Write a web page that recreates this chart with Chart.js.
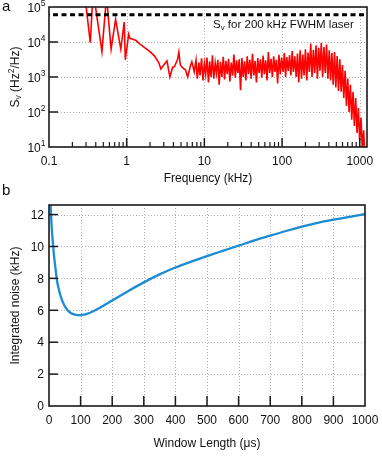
<!DOCTYPE html>
<html><head><meta charset="utf-8">
<script src="https://cdn.jsdelivr.net/npm/chart.js@4.4.1/dist/chart.umd.min.js"></script>
<style>
html,body{margin:0;padding:0;background:#fff;}
#wrap{position:relative;width:382px;height:456px;overflow:hidden;background:#fff;}
canvas{position:absolute;left:0;}
#ca{top:0;} #cb{top:180px;}
</style></head><body>
<div id="wrap"><canvas id="ca" width="382" height="188"></canvas><canvas id="cb" width="382" height="276"></canvas></div>
<script>
// ---------- Panel a: frequency-noise spectrum ----------
const freqKHz = [0.28,0.34,0.37,0.48,0.55,0.63,0.72,0.84,0.93,0.96,1.06,1.1,1.2,1.32,1.5,1.7,2.0,2.3,2.6,2.75,3.0,3.3,3.6,3.9,4.1,4.5,4.7,4.9,5.3,5.7,6.1,6.6,6.9,7.4,
 7.8,8.1,8.5,8.8,9.2,9.6,10.0,10.4,10.8,11.3,11.7,12.2,12.7,13.2,13.8,14.3,14.9,15.5,16.1,16.8,17.5,18.2,18.9,19.7,20.5,21.3,22.2,23.1,24.0,25.0,26.0,27.0,28.1,29.2,30.4,31.6,32.9,34.2,35.6,37.0,38.5,40.0,41.6,43.3,45.0,46.8,48.7,50.6,52.7,54.8,57.0,59.2,61.6,64.1,66.6,69.3,72.1,75.0,78.0,81.1,84.3,87.7,91.2,94.9,98.7,
 103,107,111,115,120,125,130,135,140,146,152,158,164,171,178,185,192,200,208,216,225,234,243,253,263,274,285,296,308,320,333,346,360,374,389,405,421,438,455,474,492,512,533,554,576,599,623,648,674,701,729,758,789,820,853,887,923,960,998,1038,1080,1123,1168,1215];
const svHz2PerHz = [400000,9500,300000,5300,200000,6300,44000,6300,37000,3100,16600,12700,12000,11000,8500,6900,5300,3900,2500,1700,2200,2900,1000,1900,1950,3100,5200,2200,1800,1600,1000,2050,2700,1400,
 3000,900,2600,1100,3400,800,2400,1200,3600,700,2800,1000,4200,900,2500,1300,3100,600,2700,1000,3800,850,2900,1200,3300,750,2600,1100,4400,950,3000,1300,3200,420,3500,1000,2800,800,3900,1200,3100,900,4600,1100,2900,700,3500,1300,3200,950,4100,1200,3000,800,5200,1300,3300,1000,3900,1400,3100,650,4300,1200,3600,
 1400,4800,1000,3700,1500,4200,1100,5500,1400,3900,1000,4700,700,5800,900,4400,1100,6200,800,5000,1400,9000,1000,6000,1300,8000,900,6800,1500,9500,1000,7200,1300,8500,900,5800,800,4800,600,5200,500,4000,400,3200,380,2200,250,1500,150,900,100,600,60,380,40,250,25,130,15,70,8,30,5,8];
const laserFwhmSv = 60000;
const freqMajorTicks = [0.1, 1, 10, 100, 1000];
const freqTickLabels = ['0.1', '1', '10', '100', '1000'];
const freqMinorTicks = [0.2,0.3,0.4,0.5,0.6,0.7,0.8,0.9,2,3,4,5,6,7,8,9,20,30,40,50,60,70,80,90,200,300,400,500,600,700,800,900];
const svTicks = [10, 100, 1000, 10000, 100000];
const svTickExponents = ['1', '2', '3', '4', '5'];

// ---------- Panel b: integrated noise ----------
const windowUs = [4,6,8,10,12,15,20,25,30,40,50,60,70,80,90,100,110,120,140,160,180,200,250,300,350,400,450,500,550,600,650,700,750,800,850,900,950,1000];
const noiseKHz = [13.2,12.2,11.4,10.8,10.3,9.6,8.7,7.9,7.4,6.7,6.25,5.98,5.82,5.74,5.7,5.7,5.73,5.78,5.94,6.15,6.38,6.62,7.2,7.75,8.25,8.68,9.05,9.4,9.73,10.05,10.38,10.68,10.97,11.24,11.48,11.68,11.86,12.02];
const windowTicks = [0,100,200,300,400,500,600,700,800,900,1000];
const noiseTicks = [0,2,4,6,8,10,12];

const FONT = '"Liberation Sans", Arial, Helvetica, sans-serif';
const TXT = '#111';
const AX = '#1a1a1a';
const GRID = '#b0b0b0';
function font(sz){ return sz + 'px ' + FONT; }
function richWidth(ctx, runs){ let w=0; for(const r of runs){ ctx.font=font(r.size); w+=ctx.measureText(r.text).width; } return w; }
function drawRich(ctx, runs, x, y, align){
  const w = richWidth(ctx, runs);
  let cx = align==='right' ? x-w : (align==='center' ? x-w/2 : x);
  ctx.textAlign='left'; ctx.textBaseline='alphabetic'; ctx.fillStyle=TXT;
  for(const r of runs){ ctx.font=font(r.size); ctx.fillText(r.text, cx, y+(r.dy||0)); cx += ctx.measureText(r.text).width; }
}
function seg(ctx,x1,y1,x2,y2){ ctx.beginPath(); ctx.moveTo(x1,y1); ctx.lineTo(x2,y2); ctx.stroke(); }
function snap(v){ return Math.round(v)+0.5; }

const gridA = {
  id:'gridA',
  beforeDatasetsDraw(chart){
    const {ctx, chartArea:a, scales:{x,y}} = chart;
    ctx.save(); ctx.strokeStyle=GRID; ctx.lineWidth=1; ctx.setLineDash([1,2]);
    for(const v of freqMajorTicks.slice(1)){ const px=snap(x.getPixelForValue(v)); seg(ctx,px,a.top,px,a.bottom); }
    for(const v of svTicks.slice(1,-1)){ const py=snap(y.getPixelForValue(v)); seg(ctx,a.left,py,a.right,py); }
    ctx.restore();
  },
  afterDatasetsDraw(chart){
    const {ctx, chartArea:a, scales:{x,y}} = chart;
    ctx.save(); ctx.strokeStyle=AX; ctx.setLineDash([]);
    ctx.lineWidth=1.5;
    for(const v of freqMajorTicks.slice(1)){ const px=x.getPixelForValue(v); seg(ctx,px,a.bottom,px,a.bottom-9); }
    for(const v of svTicks.slice(1,-1)){ const py=y.getPixelForValue(v); seg(ctx,a.left,py,a.left+9,py); }
    ctx.lineWidth=1.2;
    for(const v of freqMinorTicks){ const px=x.getPixelForValue(v); seg(ctx,px,a.bottom,px,a.bottom-5); }
    ctx.lineWidth=1.6; ctx.strokeRect(a.left,a.top,a.right-a.left,a.bottom-a.top);
    // tick labels
    ctx.fillStyle=TXT; ctx.font=font(12); ctx.textAlign='center'; ctx.textBaseline='alphabetic';
    freqMajorTicks.forEach((v,i)=>{ ctx.fillText(freqTickLabels[i], x.getPixelForValue(v), 164.5); });
    svTicks.forEach((v,i)=>{ const py=y.getPixelForValue(v); drawRich(ctx,[{text:'10',size:12},{text:svTickExponents[i],size:8.5,dy:-6}],45.5,py+5,'right'); });
    // axis titles
    ctx.font=font(12); ctx.textAlign='center'; ctx.fillText('Frequency (kHz)', (a.left+a.right)/2, 182);
    ctx.save(); ctx.translate(18.5,(a.top+a.bottom)/2); ctx.rotate(-Math.PI/2);
    drawRich(ctx,[{text:'S',size:12},{text:'v',size:8.5,dy:2.5},{text:' (Hz',size:12},{text:'2',size:8.5,dy:-5},{text:'/Hz)',size:12}],0,0,'center');
    ctx.restore();
    // legend text and panel letter
    drawRich(ctx,[{text:'S',size:11.5},{text:'v',size:8,dy:2},{text:' for 200 kHz FWHM laser',size:11.5}],213,28,'left');
    ctx.font=font(15); ctx.textAlign='left'; ctx.fillStyle=TXT; ctx.fillText('a',2,10.5);
    ctx.restore();
  }
};

const gridB = {
  id:'gridB',
  beforeDatasetsDraw(chart){
    const {ctx, chartArea:a, scales:{x,y}} = chart;
    ctx.save(); ctx.strokeStyle=GRID; ctx.lineWidth=1; ctx.setLineDash([1,2]);
    for(const v of windowTicks.slice(1,-1)){ const px=snap(x.getPixelForValue(v)); seg(ctx,px,a.top,px,a.bottom); }
    for(const v of noiseTicks.slice(1)){ const py=snap(y.getPixelForValue(v)); seg(ctx,a.left,py,a.right,py); }
    ctx.restore();
  },
  afterDatasetsDraw(chart){
    const {ctx, chartArea:a, scales:{x,y}} = chart;
    ctx.save(); ctx.strokeStyle=AX; ctx.setLineDash([]); ctx.lineWidth=1.5;
    for(const v of windowTicks.slice(1,-1)){ const px=x.getPixelForValue(v); seg(ctx,px,a.bottom,px,a.bottom-10); }
    for(const v of noiseTicks.slice(1)){ const py=y.getPixelForValue(v); seg(ctx,a.left,py,a.left+9,py); }
    ctx.lineWidth=1.6; ctx.strokeRect(a.left,a.top,a.right-a.left,a.bottom-a.top);
    ctx.fillStyle=TXT; ctx.font=font(12); ctx.textBaseline='alphabetic';
    ctx.textAlign='center';
    windowTicks.forEach(v=>{ ctx.fillText(String(v), x.getPixelForValue(v), 243.5); });
    ctx.textAlign='right';
    noiseTicks.forEach(v=>{ ctx.fillText(String(v), 44, y.getPixelForValue(v)+4.3); });
    ctx.textAlign='center';
    ctx.fillText('Window Length (\u03bcs)', (a.left+a.right)/2, 266.5);
    ctx.save(); ctx.translate(18.5,(a.top+a.bottom)/2); ctx.rotate(-Math.PI/2);
    ctx.textAlign='center'; ctx.fillText('Integrated noise (kHz)',0,0); ctx.restore();
    ctx.font=font(15); ctx.textAlign='left'; ctx.fillText('b',2,15);
    ctx.restore();
  }
};

const hidden = { ticks:{display:false}, grid:{display:false}, border:{display:false}, title:{display:false} };

new Chart(document.getElementById('ca'), {
  type:'line',
  data:{ datasets:[
    { label:'Sv for 200 kHz FWHM laser', data:[{x:0.1,y:laserFwhmSv},{x:1240,y:laserFwhmSv}], borderColor:'#000', borderWidth:3, borderDash:[5,3.5], borderDashOffset:-4, pointRadius:0 },
    { label:'Sv', data:freqKHz.map((f,i)=>({x:f,y:svHz2PerHz[i]})), borderColor:'#ff0000', borderWidth:1.6, pointRadius:0, tension:0 }
  ]},
  options:{
    responsive:false, devicePixelRatio:1, animation:false, events:[],
    layout:{ padding:{left:49,right:15,top:7,bottom:41} },
    plugins:{ legend:{display:false}, tooltip:{enabled:false} },
    scales:{
      x:Object.assign({ type:'logarithmic', min:0.1, max:1240, afterFit(s){ s.height=0; } }, hidden),
      y:Object.assign({ type:'logarithmic', min:10, max:100000, afterFit(s){ s.width=0; } }, hidden)
    }
  },
  plugins:[gridA]
});

new Chart(document.getElementById('cb'), {
  type:'line',
  data:{ datasets:[
    { label:'Integrated noise', data:windowUs.map((w,i)=>({x:w,y:noiseKHz[i]})), borderColor:'#1b8bd4', borderWidth:2.3, pointRadius:0, cubicInterpolationMode:'monotone' }
  ]},
  options:{
    responsive:false, devicePixelRatio:1, animation:false, events:[],
    layout:{ padding:{left:49,right:17,top:25,bottom:50} },
    plugins:{ legend:{display:false}, tooltip:{enabled:false} },
    scales:{
      x:Object.assign({ type:'linear', min:0, max:1000, afterFit(s){ s.height=0; } }, hidden),
      y:Object.assign({ type:'linear', min:0, max:12.6, afterFit(s){ s.width=0; } }, hidden)
    }
  },
  plugins:[gridB]
});
</script>
</body></html>
